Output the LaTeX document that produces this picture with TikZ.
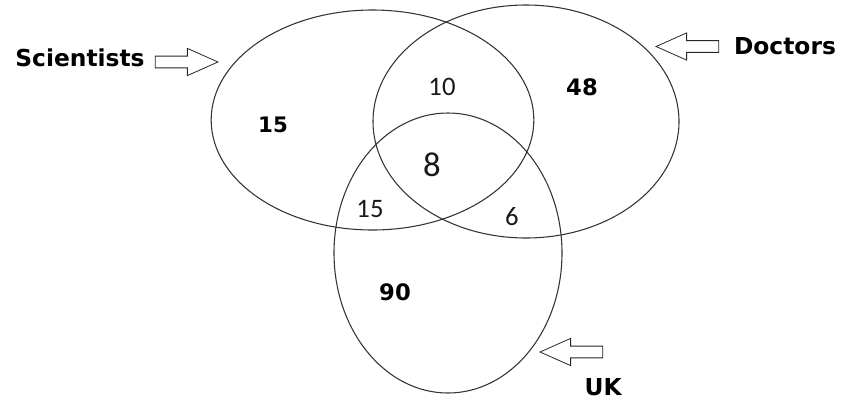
\documentclass[tikz,border=0pt]{standalone}
\usepackage{fontspec}
\usetikzlibrary{shapes}
\usetikzlibrary{positioning}
\newfontfamily\labelfont{DejaVu Sans}
\newfontfamily\countfont{Carlito}
\tikzstyle{vennset} = [ellipse, draw=black!80, line width=0.8pt, inner sep=0pt]
\tikzstyle{pointer} = [single arrow, draw=black!85, line width=0.6pt, inner sep=4.1pt,
minimum height=47pt, single arrow head extend=5.8pt, single arrow tip angle=48]
\tikzstyle{setname} = [font=\labelfont\bfseries\fontsize{17.5}{17.5}\selectfont, inner sep=0pt]
\tikzstyle{boldcount} = [font=\labelfont\bfseries\fontsize{17}{17}\selectfont, inner sep=0pt]
\tikzstyle{regioncount} = [font=\countfont\fontsize{20}{20}\selectfont, inner sep=0pt,
text=black!90]

\begin{document}
\begin{tikzpicture}[x=0.75pt,y=-0.75pt]
                \useasboundingbox (0,0) rectangle (846,404);
                % the three sets
                \node[vennset, minimum width=242pt, minimum height=165pt] (sci) at (372.5,120) {}; %
                \node[vennset, minimum width=229.5pt, minimum height=174.75pt] (doc) at (526,121.5) {}; %
                \node[vennset, minimum width=171pt, minimum height=210pt] (uk) at (448,253) {}; %

                % pointers and their labels
                \node[pointer] (psci) at (180,62) {}; %
                \node[setname, left=7.5pt of psci, yshift=3pt] (nsci) {Scientists}; %

                \node[pointer, shape border rotate=180] (pdoc) at (694,46.5) {}; %
                \node[setname, right=11pt of pdoc] (ndoc) {Doctors}; %

                \node[pointer, shape border rotate=180] (puk) at (578,352) {}; %
                \node[setname, below=20pt of puk.tail] (nuk) {UK}; %

                % counts
                \node[boldcount, font=\labelfont\bfseries\fontsize{16}{16}\selectfont] (nsci15) at (273,125) {15}; %
                \node[boldcount] (ndoc48) at (582,87) {48}; %
                \node[boldcount] (nuk90) at (395,292) {90}; %
                \node[regioncount] (nsd10) at (442,87) {10}; %
                \node[regioncount, font=\countfont\fontsize{26}{26}\selectfont] (nall8) at (432,165) {8}; %
                \node[regioncount] (nsu15) at (370,209) {15}; %
                \node[regioncount] (ndu6) at (512,217) {6}; %
\end{tikzpicture}
\end{document}
